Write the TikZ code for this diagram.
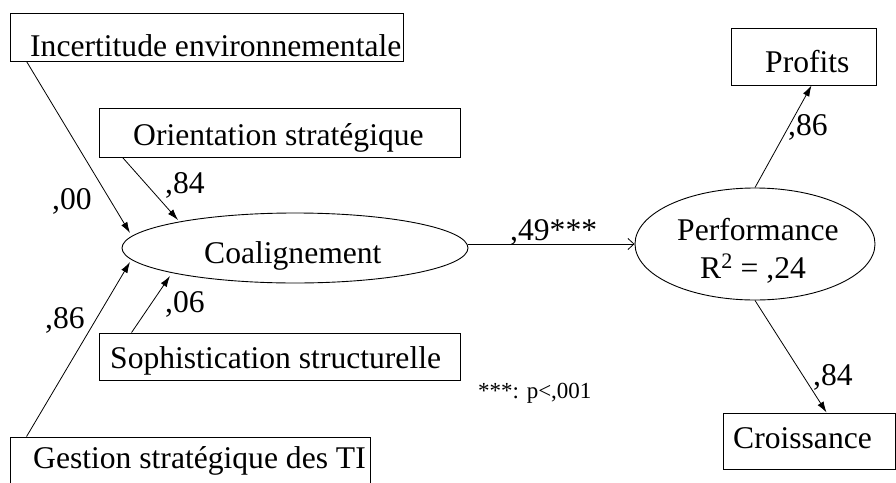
\documentclass[tikz,border=0pt]{standalone}
\usepackage{fontspec}
\setmainfont{Liberation Serif}
\usetikzlibrary{shapes.geometric,arrows.meta,calc}
\begin{document}
\begin{tikzpicture}[x=1pt,y=-1pt,
  box/.style={draw,line width=0.9pt,rectangle,inner sep=0pt},
  oval/.style={draw,line width=0.9pt,ellipse,inner sep=0pt},
  txt/.style={anchor=base west,inner sep=0pt,font=\fontsize{31.6}{36}\selectfont},
  small/.style={anchor=base west,inner sep=0pt,font=\fontsize{23}{27}\selectfont},
  arr/.style={line width=0.8pt,-{Latex[length=11pt,width=7pt]}},
  oarr/.style={line width=0.8pt,-{Straight Barb[length=6pt,width=11pt]}}]
\useasboundingbox (0,0) rectangle (896,482);
\clip (0,0) rectangle (896,482);
% boxes
\node[box,minimum width=393pt,minimum height=48pt] (inc) at (206.5,37) {};
\node[box,minimum width=361pt,minimum height=49pt] (ori) at (279.5,132.5) {};
\node[box,minimum width=361pt,minimum height=47pt] (soph) at (279.5,356.5) {};
\node[box,minimum width=360pt,minimum height=70pt] (gest) at (190,472) {};
\node[box,minimum width=145pt,minimum height=57pt] (prof) at (803.5,56.5) {};
\node[box,minimum width=172pt,minimum height=56pt] (cro) at (809,441) {};
% ellipses
\node[oval,minimum width=346pt,minimum height=70pt] (coal) at (295,248) {};
\node[oval,minimum width=240pt,minimum height=112pt] (perf) at (755,244) {};
% texts
\node[txt] (tinc) at (30,56) {Incertitude environnementale};
\node[txt] (tori) at (133,145) {Orientation stratégique};
\node[txt] (tsoph) at (110,368) {Sophistication structurelle};
\node[txt] (tgest) at (33,468) {Gestion stratégique des TI};
\node[txt] (tprof) at (765,72) {Profits};
\node[txt] (tcro) at (733,448) {Croissance};
\node[txt] (tcoal) at (204,263) {Coalignement};
\node[txt] (tperf) at (677,240) {Performance};
\node[txt] (tr2) at (700,278) {R\textsuperscript{2} = ,24};
% coefficients
\node[txt] (c00) at (52,209) {,00};
\node[txt] (c84a) at (165,193) {,84};
\node[txt] (c86a) at (45,328) {,86};
\node[txt] (c06) at (165,312) {,06};
\node[txt] (c49) at (510,240) {,49***};
\node[txt] (c86b) at (788,135) {,86};
\node[txt] (c84b) at (813,385) {,84};
\node[small] (note) at (478,398) {***: p<,001};
% arrows
\draw[arr] ($(inc.south west)+(17,0)$) -- ($(coal.center)+(-165,-15)$);
\draw[arr] ($(ori.south west)+(24,0)$) -- ($(coal.center)+(-117,-28)$);
\draw[arr] ($(gest.north west)+(17,0)$) -- ($(coal.center)+(-165,14)$);
\draw[arr] ($(soph.north west)+(33,0)$) -- ($(coal.center)+(-125,28)$);
\draw[oarr] (coal.east |- perf.west) -- (perf.west);
\draw[arr] (perf.north) -- ($(prof.south)+(8,0)$);
\draw[arr] (perf.south) -- ($(cro.north west)+(104,0)$);
\end{tikzpicture}
\end{document}
